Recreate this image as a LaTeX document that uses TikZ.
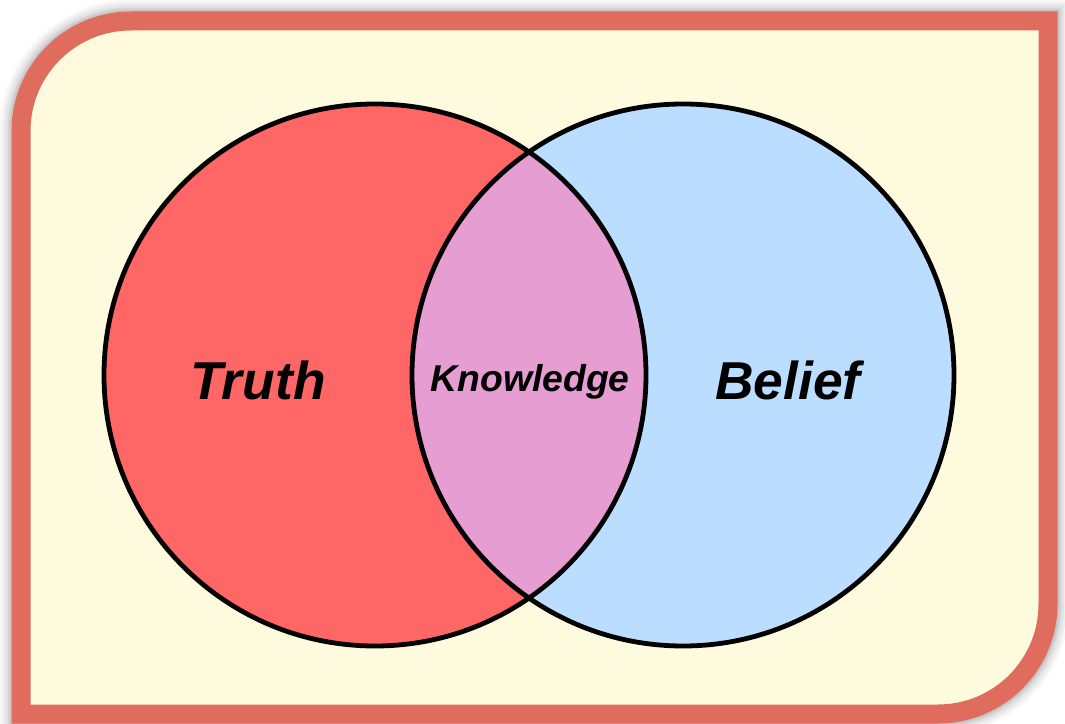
\documentclass[tikz,border=0pt]{standalone}
\usepackage{fontspec}
\setmainfont{Liberation Sans}
\begin{document}
\begin{tikzpicture}[x=0.75pt,y=0.75pt,yscale=-1,xscale=1,
  setcircle/.style={line width=3.6},
  setlabel/.style={font=\bfseries\itshape}]
\useasboundingbox (0,0) rectangle (1065,724);

%frame, soft shadow first
\foreach \w/\o in {32/0.05,28/0.07,24/0.09,20/0.12,17/0.15} {
\draw [color={rgb, 255:red, 110; green, 110; blue, 110 },draw opacity=\o ][line width=\w]  (21,714) -- (21,131) arc[start angle=180,end angle=270,radius=110] -- (1048,21) -- (1048,604) arc[start angle=0,end angle=90,radius=110] -- cycle ;
}
\draw [color={rgb, 255:red, 224; green, 108; blue, 94 },fill={rgb, 255:red, 254; green, 250; blue, 222 }][line width=14.25]  (21,714) -- (21,131) arc[start angle=180,end angle=270,radius=110] -- (1048,21) -- (1048,604) arc[start angle=0,end angle=90,radius=110] -- cycle ;

%circles
\fill [color={rgb, 255:red, 255; green, 102; blue, 102 }] (375,375) circle [radius=271] ;
\fill [color={rgb, 255:red, 187; green, 221; blue, 255 }] (683,375) circle [radius=271] ;
\begin{scope}
\clip (375,375) circle [radius=271] ;
\fill [color={rgb, 255:red, 229; green, 157; blue, 210 }] (683,375) circle [radius=271] ;
\end{scope}
\draw [setcircle] (375,375) circle [radius=271] ;
\draw [setcircle] (683,375) circle [radius=271] ;

%labels
\node [setlabel,font=\fontsize{40}{40}\selectfont\bfseries\itshape] (truth) at (258,380) {Truth};
\node [setlabel,font=\fontsize{28}{28}\selectfont\bfseries\itshape] (knowledge) at (530,382) {Knowledge};
\node [setlabel,font=\fontsize{40}{40}\selectfont\bfseries\itshape] (belief) at (788,380) {Belief};

\end{tikzpicture}
\end{document}
